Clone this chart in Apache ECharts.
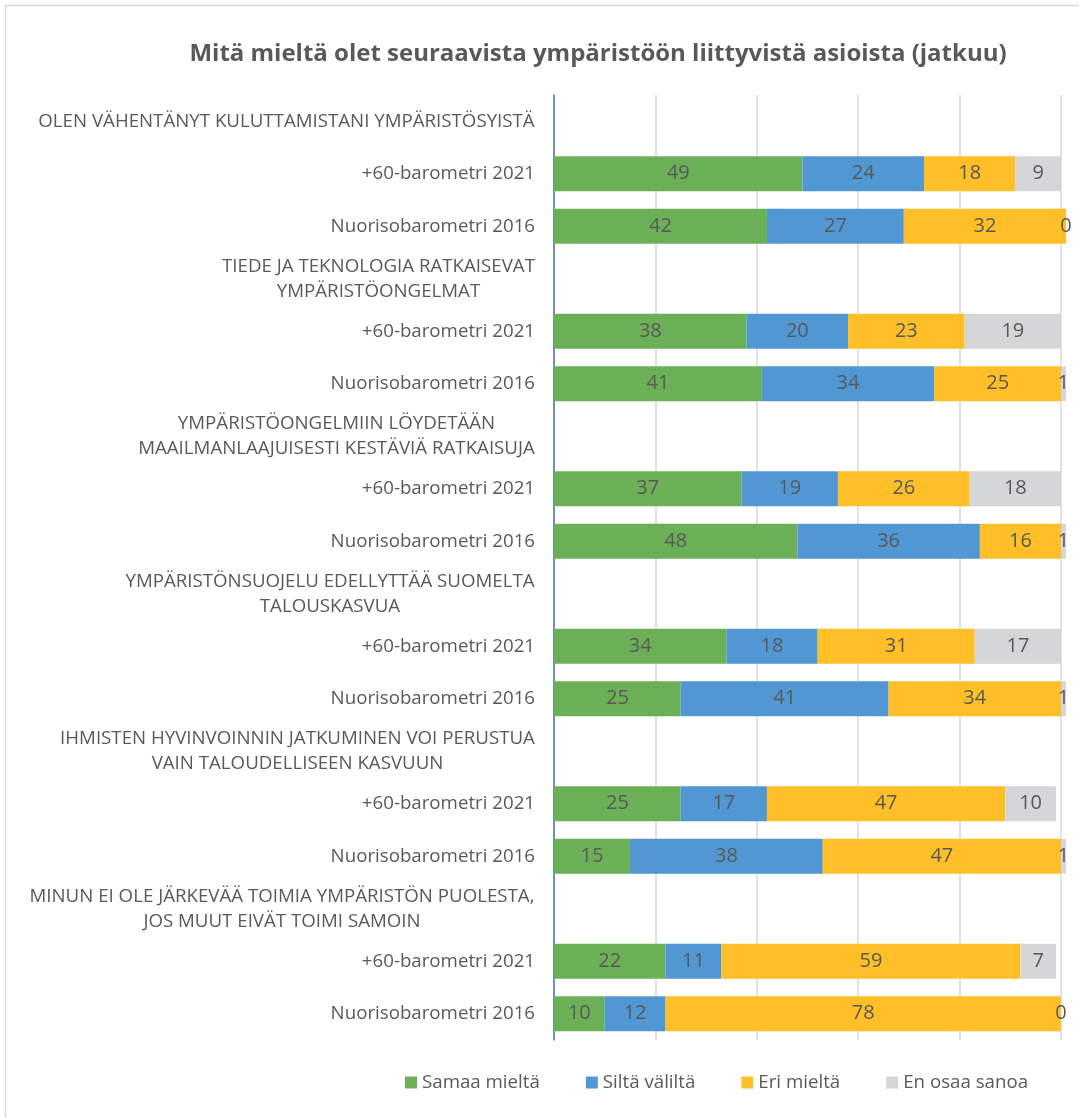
<!DOCTYPE html>
<html>
<head>
<meta charset="utf-8">
<script src="https://cdn.jsdelivr.net/npm/echarts@6/dist/echarts.min.js"></script>
<style>
  html, body { margin: 0; padding: 0; background: #fff; }
  #chart { width: 1079px; height: 1118px; }
</style>
</head>
<body>
<div id="chart"></div>
<script>
// Statements (each one heads a group of two survey rows)
const questions = [
  'OLEN VÄHENTÄNYT KULUTTAMISTANI YMPÄRISTÖSYISTÄ',
  'TIEDE JA TEKNOLOGIA RATKAISEVAT\nYMPÄRISTÖONGELMAT',
  'YMPÄRISTÖONGELMIIN LÖYDETÄÄN\nMAAILMANLAAJUISESTI KESTÄVIÄ RATKAISUJA',
  'YMPÄRISTÖNSUOJELU EDELLYTTÄÄ SUOMELTA\nTALOUSKASVUA',
  'IHMISTEN HYVINVOINNIN JATKUMINEN VOI PERUSTUA\nVAIN TALOUDELLISEEN KASVUUN',
  'MINUN EI OLE JÄRKEVÄÄ TOIMIA YMPÄRISTÖN PUOLESTA,\nJOS MUUT EIVÄT TOIMI SAMOIN'
];
const surveys = ['+60-barometri 2021', 'Nuorisobarometri 2016'];
const seriesNames = ['Samaa mieltä', 'Siltä väliltä', 'Eri mieltä', 'En osaa sanoa'];

// Percentages, two rows per statement (+60-barometri 2021, Nuorisobarometri 2016)
const samaaMielta = [49, 42, 38, 41, 37, 48, 34, 25, 25, 15, 22, 10];
const siltaValilta = [24, 27, 20, 34, 19, 36, 18, 41, 17, 38, 11, 12];
const eriMielta   = [18, 32, 23, 25, 26, 16, 31, 34, 47, 47, 59, 78];
const enOsaaSanoa = [9, 0, 19, 1, 18, 1, 17, 1, 10, 1, 7, 0];

const colors = ['#6BB056', '#5097D3', '#FEBF28', '#D4D6D7'];
const labelFont = '"Open Sans", sans-serif';
const catSize = 18.7;

// Category list: a heading row followed by its survey rows
const categories = [];
const isHeading = [];
questions.forEach(q => {
  categories.push(q); isHeading.push(true);
  surveys.forEach(s => { categories.push(s); isHeading.push(false); });
});

function expand(values) {
  const out = [];
  let k = 0;
  isHeading.forEach(h => out.push(h ? null : values[k++]));
  return out;
}

// Multi-line headings: lines centred within their own block, block right-aligned at the axis
const ctx = document.createElement('canvas').getContext('2d');
ctx.font = catSize + 'px ' + labelFont;
const rich = {};
const headingIdx = {};
questions.forEach((q, i) => {
  const w = Math.ceil(Math.max(...q.split('\n').map(l => ctx.measureText(l).width)));
  rich['h' + i] = { width: w, align: 'center', fontSize: catSize, fontFamily: labelFont, color: '#595959', lineHeight: 25 };
  headingIdx[q] = i;
});

const chart = echarts.init(document.getElementById('chart'));
const allSeries = [samaaMielta, siltaValilta, eriMielta, enOsaaSanoa].map((vals, i) => ({
  name: seriesNames[i],
  type: 'bar',
  stack: 'total',
  clip: false,
  barWidth: 35,
  itemStyle: { color: colors[i] },
  label: {
    show: true,
    position: 'inside',
    color: '#595959',
    fontFamily: labelFont,
    fontSize: 20,
    formatter: p => (p.value === null || p.value === undefined) ? '' : String(p.value)
  },
  emphasis: { disabled: true },
  data: expand(vals)
}));

chart.setOption({
  animation: false,
  color: colors,
  title: {
    text: 'Mitä mieltä olet seuraavista ympäristöön liittyvistä asioista (jatkuu)',
    left: 593,
    textAlign: 'center',
    top: 37,
    textStyle: { fontFamily: labelFont, fontWeight: 'bold', fontSize: 24, color: '#595959' }
  },
  graphic: [{
    type: 'rect',
    shape: { x: 5.5, y: 5.5, width: 1090, height: 1130 },
    style: { fill: null, stroke: '#D9D9D9', lineWidth: 1.5 },
    silent: true
  }],
  legend: {
    bottom: 21,
    left: 400,
    icon: 'rect',
    itemWidth: 12,
    itemHeight: 12,
    itemGap: 46,
    textStyle: { fontFamily: labelFont, fontSize: 18.7, color: '#595959' },
    data: seriesNames
  },
  grid: { left: 554, right: 18, top: 95, bottom: 78 },
  xAxis: {
    type: 'value',
    min: 0,
    max: 100,
    interval: 20,
    axisLabel: { show: false },
    axisLine: { show: false },
    axisTick: { show: false },
    splitLine: { lineStyle: { color: '#D9D9D9', width: 1.5 } }
  },
  yAxis: {
    type: 'category',
    inverse: true,
    data: categories,
    axisTick: { show: false },
    axisLine: { lineStyle: { color: '#4472C4', width: 1.5 } },
    axisLabel: {
      margin: 19,
      fontFamily: labelFont,
      fontSize: catSize,
      color: '#595959',
      interval: 0,
      rich: rich,
      formatter: v => {
        if (headingIdx[v] === undefined) return v;
        const tag = 'h' + headingIdx[v];
        return v.split('\n').map(l => '{' + tag + '|' + l + '}').join('\n');
      }
    }
  },
  series: allSeries
});
</script>
</body>
</html>
